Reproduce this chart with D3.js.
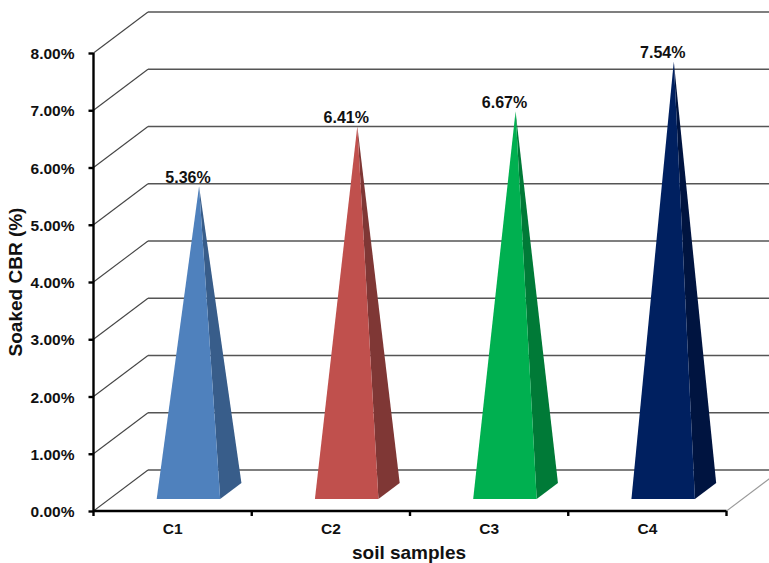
<!DOCTYPE html>
<html><head><meta charset="utf-8">
<script src="https://cdn.jsdelivr.net/npm/d3@7"></script>
<style>html,body{margin:0;padding:0;background:#fff}svg{display:block}text{font-family:"Liberation Sans",Arial,sans-serif;font-weight:bold;fill:#111}</style>
</head><body><svg id="c" width="769" height="563"></svg>
<script>
const categories = ["C1","C2","C3","C4"];
const values = [5.36,6.41,6.67,7.54];
const yTicks = [0,1,2,3,4,5,6,7,8];
const frontColors = ["#4f81bd","#c0504d","#00b050","#002060"];
const sideColors = ["#385d8a","#7f3735","#007a37","#001440"];
const xTitle = "soil samples", yTitle = "Soaked CBR (%)";

const svg = d3.select("#c");
const x = d3.scaleBand().domain(categories).range([93.5,726.5]);
const y = d3.scaleLinear().domain([0,8]).range([511,53]);
const DX = 54.5, DY = -41;
const px = (xv,d)=> xv + DX*d;
const py = (yv,d)=> yv + DY*d;

// walls
svg.append("g").selectAll("line").data(yTicks).join("line")
  .attr("x1",x.range()[0]).attr("y1",d=>y(d))
  .attr("x2",px(x.range()[0],1)).attr("y2",d=>py(y(d),1))
  .attr("stroke","#444").attr("stroke-width",1.1);
svg.append("g").selectAll("line").data(yTicks).join("line")
  .attr("x1",px(x.range()[0],1)).attr("y1",d=>py(y(d),1))
  .attr("x2",769).attr("y2",d=>py(y(d),1))
  .attr("stroke","#555").attr("stroke-width",1.4);
svg.append("line").attr("x1",x.range()[1]).attr("y1",y(0))
  .attr("x2",px(x.range()[1],1)).attr("y2",py(y(0),1))
  .attr("stroke","#999").attr("stroke-width",1.1);

// pyramids
const dFront=0.29, dBack=0.68, dMid=(dFront+dBack)/2;
const barW=63.5;
const line=d3.line();
const bars=svg.append("g").selectAll("g").data(categories).join("g");
const apex=(c,i)=>[px(x(c)+x.bandwidth()/2,dMid), py(y(values[i]),dMid)+2];
bars.append("path").attr("fill",(c,i)=>sideColors[i]).attr("d",(c,i)=>{
  const cx=x(c)+x.bandwidth()/2, r=cx+barW/2;
  return line([[px(r,dFront),py(y(0),dFront)],[px(r,dBack),py(y(0),dBack)],apex(c,i)])+"Z";
});
bars.append("path").attr("fill",(c,i)=>frontColors[i]).attr("d",(c,i)=>{
  const cx=x(c)+x.bandwidth()/2, l=cx-barW/2, r=cx+barW/2;
  return line([[px(l,dFront),py(y(0),dFront)],[px(r,dFront),py(y(0),dFront)],apex(c,i)])+"Z";
});
// value labels
bars.append("text").attr("text-anchor","middle").attr("font-size",16)
  .attr("x",(c,i)=>apex(c,i)[0]-11).attr("y",(c,i)=>apex(c,i)[1]-3)
  .text((c,i)=>values[i].toFixed(2)+"%");

// axes
const yAxis=svg.append("g").attr("transform","translate(93.5,0)")
  .call(d3.axisLeft(y).tickValues(yTicks).tickSize(5).tickPadding(14).tickFormat(d=>d.toFixed(2)+"%"));
yAxis.selectAll("path").attr("stroke","#000").attr("stroke-width",2.4).attr("d","M0,53V511");
yAxis.selectAll("line").attr("stroke","#000").attr("stroke-width",2.4);
yAxis.selectAll("text").attr("font-size",15.5).attr("dy","0.36em").attr("fill","#111").attr("font-family",null);

const xAxis=svg.append("g").attr("transform","translate(0,511)")
  .call(d3.axisBottom(x).tickSize(0).tickPadding(12));
xAxis.selectAll("path").attr("stroke","#000").attr("stroke-width",2.4).attr("d","M93.5,0H726.5");
xAxis.selectAll("text").attr("font-size",15.5).attr("fill","#111").attr("font-family",null);
svg.append("g").selectAll("line").data([...categories.map(c=>x(c)),x.range()[1]]).join("line")
  .attr("x1",d=>d).attr("x2",d=>d).attr("y1",511).attr("y2",516)
  .attr("stroke","#000").attr("stroke-width",2.4);

svg.append("text").attr("x",409).attr("y",558.5).attr("text-anchor","middle").attr("font-size",19).text(xTitle);
svg.append("text").attr("transform","translate(22,282) rotate(-90)").attr("text-anchor","middle").attr("font-size",19).text(yTitle);
</script></body></html>
